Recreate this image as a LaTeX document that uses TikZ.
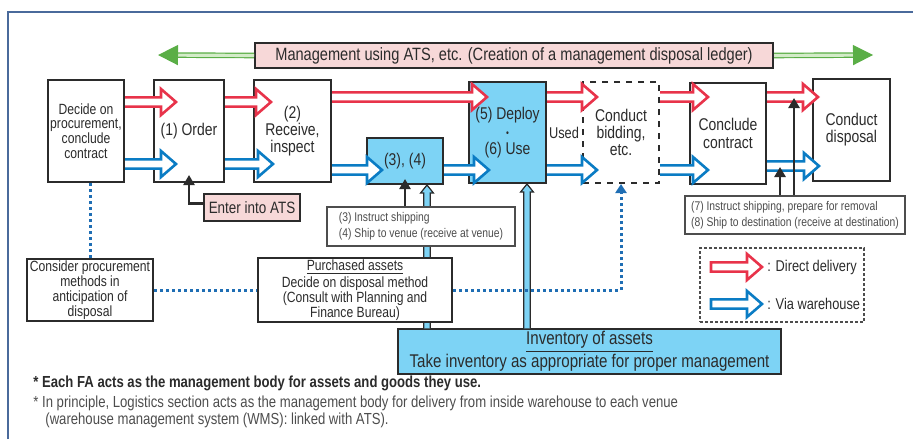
\documentclass[tikz,border=0pt]{standalone}
\usepackage{fontspec}
\setmainfont{Liberation Sans}[FakeStretch=0.82]
\usetikzlibrary{arrows.meta}
\usetikzlibrary{calc}
\usetikzlibrary{positioning}

\definecolor{redarr}{HTML}{E8334A}
\definecolor{bluearr}{HTML}{0A7CC4}
\definecolor{skyfill}{HTML}{7DD3F5}
\definecolor{pinkfill}{HTML}{F7D8D8}
\definecolor{greenarr}{HTML}{5AAE46}
\definecolor{greenpale}{HTML}{D3EBC8}
\definecolor{dotblue}{HTML}{1F6EB4}
\definecolor{boxline}{HTML}{2B2B2B}
\definecolor{graytxt}{HTML}{4D4D4D}
\definecolor{framecol}{HTML}{4A6A9B}

\tikzset{
  sz/.style 2 args={minimum width=#1*0.5pt, minimum height=#2*0.5pt},
  box/.style={draw=boxline, line width=1pt, fill=white, align=center, inner sep=1pt, text=boxline},
  thinbox/.style={draw=graytxt, line width=0.6pt, fill=white, align=left, inner sep=1pt, text=graytxt, font=\fontsize{6.3}{8}\selectfont},
  bigtxt/.style={font=\fontsize{8.5}{8.6}\selectfont},
  smalltxt/.style={font=\fontsize{7.4}{7.4}\selectfont},
  fatarr/.style={line width=1.3pt, line join=miter},
  invarr/.style={draw=boxline, line width=0.6pt},
  blk/.style={draw=boxline, line width=1.4pt, -{Triangle[length=5pt,width=5.5pt]}},
  dotline/.style={draw=dotblue, line width=1.5pt, dash pattern=on 1.5pt off 1.5pt},
  greenline/.style={draw=greenarr, line width=0.6pt, double=greenpale, double distance=1.6pt, -{Triangle[length=10pt,width=10pt]}},
  note/.style={anchor=west, inner sep=0pt, font=\fontsize{8}{9}\selectfont}
}

% hollow block arrow, #2 colour, #3 start, #4 tip
\newcommand{\fatarrow}[4][]{%
  \fill[white] let \p1=#3, \p2=#4 in
    (\x1,\y1+2.3pt) -- (\x2-7.5pt,\y1+2.3pt) -- (\x2-7.5pt,\y1+6.5pt) -- (\x2,\y1)
    -- (\x2-7.5pt,\y1-6.5pt) -- (\x2-7.5pt,\y1-2.3pt) -- (\x1,\y1-2.3pt) -- cycle;
  \draw[fatarr, draw=#2] let \p1=#3, \p2=#4 in
    (\x1,\y1+2.3pt) -- (\x2-7.5pt,\y1+2.3pt) -- (\x2-7.5pt,\y1+6.5pt) -- (\x2,\y1)
    -- (\x2-7.5pt,\y1-6.5pt) -- (\x2-7.5pt,\y1-2.3pt) -- (\x1,\y1-2.3pt) #1;}

% narrow upward arrow from the inventory box
\newcommand{\hollowup}[2]{%
  \fill[skyfill] let \p1=#1, \p2=#2 in
    (\x1-1.6pt,\y1) -- (\x1-1.6pt,\y2-4pt) -- (\x1-3.2pt,\y2-4pt) -- (\x1,\y2)
    -- (\x1+3.2pt,\y2-4pt) -- (\x1+1.6pt,\y2-4pt) -- (\x1+1.6pt,\y1) -- cycle;
  \draw[invarr] let \p1=#1, \p2=#2 in
    (\x1-1.6pt,\y1) -- (\x1-1.6pt,\y2-4pt) -- (\x1-3.2pt,\y2-4pt) -- (\x1,\y2)
    -- (\x1+3.2pt,\y2-4pt) -- (\x1+1.6pt,\y2-4pt) -- (\x1+1.6pt,\y1);}

\begin{document}
\begin{tikzpicture}[x=0.5pt, y=-0.5pt]
\useasboundingbox (0,0) rectangle (913,439);

% Rahmen
\draw[framecol, line width=0.9pt] (8,439) -- (8,12) -- (913,12);

% Management
\node[box, fill=pinkfill, sz={518}{25}, font=\fontsize{8.9}{9}\selectfont] (mgmt) at (514,55.5)
  {Management using ATS, etc. (Creation of a management disposal ledger)};
\coordinate (gL) at (158,55);
\coordinate (gR) at (873,55);
\draw[greenline] (mgmt.west) -- (gL);
\draw[greenline] (mgmt.east) -- (gR);

% Ablauf
\node[box, sz={76}{102}, smalltxt] (dec) at (86,131) {Decide on\\procurement,\\conclude\\contract};
\node[box, sz={70}{102}, bigtxt] (ord) at (189,131) {(1) Order};
\node[box, sz={77}{102}, bigtxt] (rec) at (292.5,131) {(2)\\Receive,\\inspect};
\node[box, sz={76}{46}, bigtxt, fill=skyfill] (ship) at (405,161) {(3), (4)};
\node[box, sz={77}{101}, bigtxt, fill=skyfill] (use) at (507.5,132.5) {(5) Deploy\\{\fontsize{5}{8.6}\selectfont\textbullet}\\(6) Use};
\node[box, sz={76}{101}, bigtxt, dashed] (bid) at (621,132.5) {Conduct\\bidding,\\etc.};
\node[box, sz={76}{101}, bigtxt] (con) at (728,133.5) {Conclude\\contract};
\node[box, sz={77}{102}, bigtxt] (disp) at (851.5,130) {Conduct\\disposal};
\node[text=boxline, font=\fontsize{7.8}{8}\selectfont] (used) at (564,133) {Used};

% Pfeilreihen
\coordinate (rowR) at (0,102);
\coordinate (rowRR) at (0,97);
\coordinate (rowB) at (0,164);
\coordinate (rowBB) at (0,170);
\coordinate (rowBG) at (0,166);

\fatarrow{redarr}{(dec.east |- rowR)}{([xshift=11.5pt]ord.west |- rowR)}
\fatarrow{redarr}{(ord.east |- rowR)}{([xshift=9pt]rec.west |- rowR)}
\fatarrow{redarr}{(rec.east |- rowRR)}{([xshift=9.5pt]use.west |- rowRR)}
\fatarrow{redarr}{(use.east |- rowRR)}{([xshift=7.5pt]bid.west |- rowRR)}
\fatarrow{redarr}{(bid.east |- rowRR)}{([xshift=9.5pt]con.west |- rowRR)}
\fatarrow{redarr}{(con.east |- rowRR)}{([xshift=3pt]disp.west |- rowRR)}

\fatarrow{bluearr}{(dec.east |- rowB)}{([xshift=11.5pt]ord.west |- rowB)}
\fatarrow{bluearr}{(ord.east |- rowB)}{([xshift=10pt]rec.west |- rowB)}
\fatarrow{bluearr}{(rec.east |- rowBB)}{([xshift=8pt]ship.west |- rowBB)}
\fatarrow{bluearr}{(ship.east |- rowBB)}{([xshift=10.5pt]use.west |- rowBB)}
\fatarrow{bluearr}{(use.east |- rowBB)}{([xshift=7.5pt]bid.west |- rowBB)}
\fatarrow{bluearr}{(bid.east |- rowBB)}{([xshift=9.5pt]con.west |- rowBB)}
\fatarrow{bluearr}{(con.east |- rowBG)}{([xshift=3.5pt]disp.west |- rowBG)}

% ATS
\node[box, fill=pinkfill, sz={96}{27}, font=\fontsize{8.2}{9}\selectfont] (ats) at (252,207.5) {Enter into ATS};
\draw[blk] ([yshift=2pt]ats.west) -| ([yshift=4pt]ord.south);

% Inventar
\node[box, fill=skyfill, sz={383}{41}, font=\fontsize{9.2}{8.8}\selectfont] (inv) at (589.5,351.5)
  {\underline{Inventory of assets}\\Take inventory as appropriate for proper management};
\hollowup{([xshift=11pt]ship.south |- inv.north)}{([xshift=11pt]ship.south)}
\hollowup{([xshift=9.75pt]use.south |- inv.north)}{([xshift=9.75pt]use.south)}

% Anweisungen
\node[thinbox, sz={188}{39}] (ins34) at (421,226.5) {(3) Instruct shipping\\(4) Ship to venue (receive at venue)};
\draw[blk] (ins34.north -| ship.south) -- ([yshift=3pt]ship.south);

\node[thinbox, sz={220}{38}] (ins78) at (795,215) {(7) Instruct shipping, prepare for removal\\(8) Ship to destination (receive at destination)};
\coordinate (tip7) at (780,167);
\coordinate (tip8) at (794,98);
\draw[blk] (ins78.north -| tip7) -- (tip7);
\draw[blk] (ins78.north -| tip8) -- (tip8);

% Entsorgung planen
\node[box, sz={126}{62}, smalltxt] (cons) at (90,290) {Consider procurement\\methods in\\anticipation of\\disposal};
\node[box, sz={194}{62}, smalltxt] (purch) at (355,290) {\underline{Purchased assets}\\Decide on disposal method\\(Consult with Planning and\\Finance Bureau)};
\draw[dotline] (cons.north |- dec.south) -- (cons.north);
\draw[dotline] (cons.east) -- (purch.west);
\draw[dotline, -{Triangle[length=4.5pt,width=5.5pt]}] (purch.east) -| (bid.south);

% Legende
\node[draw=graytxt, line width=0.6pt, dash pattern=on 1.5pt off 1pt, sz={164}{74}] (leg) at (782,285) {};
\node[anchor=west, inner sep=0pt, text=boxline, font=\fontsize{7.8}{9}\selectfont] (legD) at (767,267) {: Direct delivery};
\node[anchor=west, inner sep=0pt, text=boxline, font=\fontsize{7.8}{9}\selectfont] (legW) at (767,304) {: Via warehouse};
\fatarrow[-- cycle]{redarr}{([xshift=-28pt]legD.west)}{([xshift=-2.5pt]legD.west)}
\fatarrow[-- cycle]{bluearr}{([xshift=-28pt]legW.west)}{([xshift=-2.5pt]legW.west)}

% Fussnoten
\node[note, font=\bfseries\fontsize{8}{9}\selectfont, text=boxline] (n1) at (33,383)
  {* Each FA acts as the management body for assets and goods they use.};
\node[note, text=graytxt] (n2) at (33,403)
  {* In principle, Logistics section acts as the management body for delivery from inside warehouse to each venue};
\node[note, text=graytxt] (n3) at (45,420)
  {(warehouse management system (WMS): linked with ATS).};

\end{tikzpicture}
\end{document}
